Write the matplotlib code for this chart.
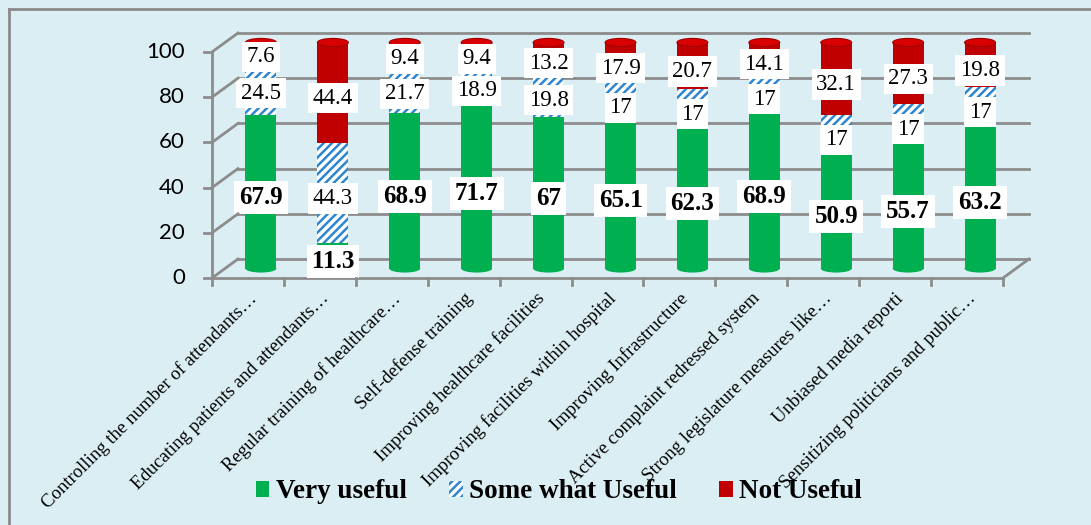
import matplotlib.pyplot as plt
import numpy as np
from matplotlib.patches import Patch, Ellipse
from matplotlib.lines import Line2D
from matplotlib.transforms import Affine2D

categories = [
    "Controlling the number of attendants\u2026",
    "Educating patients and attendants\u2026",
    "Regular training of healthcare\u2026",
    "Self-defense training",
    "Improving healthcare facilities",
    "Improving facilities within hospital",
    "Improving Infrastructure",
    "Active complaint redressed system",
    "Strong legislature measures like\u2026",
    "Unbiased media reporti",
    "Sensitizing politicians and public\u2026",
]
very_useful = [67.9, 11.3, 68.9, 71.7, 67, 65.1, 62.3, 68.9, 50.9, 55.7, 63.2]
somewhat_useful = [24.5, 44.3, 21.7, 18.9, 19.8, 17, 17, 17, 17, 17, 17]
not_useful = [7.6, 44.4, 9.4, 9.4, 13.2, 17.9, 20.7, 14.1, 32.1, 27.3, 19.8]
yticks = [0, 20, 40, 60, 80, 100]

bg = '#DBEEF4'
green = '#00B050'
blue = '#2E86D0'
red = '#C00000'
grid = '#8C8C8C'

plt.rcParams['hatch.linewidth'] = 1.8
W, H = 1091, 525
fig = plt.figure(figsize=(W / 100, H / 100), dpi=100, facecolor=bg)
# axes sit at mid depth of the fake 3D box
ax = fig.add_axes([225 / W, (H - 268.5) / H, 791 / W, 226 / H])
ax.set_xlim(-0.5, len(categories) - 0.5)
ax.set_ylim(0, 100)
ax.axis('off')

dx, dy = 13, 9.5
front = ax.transData + Affine2D().translate(-dx, -dy)
back = ax.transData + Affine2D().translate(dx, dy)
x0, x1 = -0.5, len(categories) - 0.5


def fig_line(p, q, **kw):
    fig.add_artist(Line2D([p[0] / W, q[0] / W], [p[1] / H, q[1] / H],
                          transform=fig.transFigure, **kw))


# back wall grid and left wall
for t in yticks:
    ax.plot([x0, x1], [t, t], color=grid, lw=2, transform=back, clip_on=False, zorder=1)
    fig_line(front.transform((x0, t)), back.transform((x0, t)), color=grid, lw=2, zorder=1)
fig_line(front.transform((x1, 0)), back.transform((x1, 0)), color=grid, lw=2, zorder=1)
# front axis lines and ticks
ax.plot([x0, x0], [0, 100], color=grid, lw=2, transform=front, clip_on=False, zorder=1)
ax.plot([x0, x1], [0, 0], color=grid, lw=2, transform=front, clip_on=False, zorder=1)
for t in yticks:
    p = front.transform((x0, t))
    fig_line((p[0] - 8, p[1]), p, color=grid, lw=2)
    fig.text((p[0] - 27) / W, p[1] / H, str(t), ha='right', va='center',
             fontsize=16, family='Lato', color='black')
for i in range(len(categories) + 1):
    p = front.transform((x0 + i, 0))
    fig_line(p, (p[0], p[1] - 7), color=grid, lw=2)
for i, c in enumerate(categories):
    p = front.transform((i, 0))
    fig.text((p[0] + 6) / W, (p[1] - 18) / H, c, rotation=45, rotation_mode='anchor',
             ha='right', va='center', fontsize=13.5, family='Liberation Serif')

x = np.arange(len(categories))
vu = np.array(very_useful)
su = np.array(somewhat_useful)
nu = np.array(not_useful)
bw = 0.43
ax.bar(x, vu, bw, color=green, lw=0, zorder=3)
ax.bar(x, su, bw, bottom=vu, facecolor='white', edgecolor=blue, hatch='////', lw=0, zorder=3)
ax.bar(x, nu, bw, bottom=vu + su, color=red, lw=0, zorder=3)
for i in x:
    ax.add_patch(Ellipse((i, 0), bw, 3.6, color=green, lw=0, zorder=2.9, clip_on=False))
    top = vu[i] + su[i] + nu[i]
    ax.add_patch(Ellipse((i, top), bw, 3.6, facecolor='#D80000', edgecolor='#A00000',
                         lw=0.8, zorder=3.1, clip_on=False))

box = dict(boxstyle='square,pad=0.2', facecolor='white', edgecolor='none')
for i in x:
    ax.text(i, vu[i] / 2 - 2.5, f"{vu[i]:g}", ha='center', va='center', fontsize=18,
            fontweight='bold', family='Liberation Serif', bbox=box, zorder=5)
    ax.text(i, vu[i] + su[i] / 2 - 2.5, f"{su[i]:g}", ha='center', va='center', fontsize=16.5,
            family='Liberation Serif', bbox=box, zorder=5)
    ax.text(i, vu[i] + su[i] + nu[i] / 2 - 2.5, f"{nu[i]:g}", ha='center', va='center',
            fontsize=16.5, family='Liberation Serif', bbox=box, zorder=5)

handles = [Patch(facecolor=green, lw=0),
           Patch(facecolor='white', edgecolor=blue, hatch='////', lw=0),
           Patch(facecolor=red, lw=0)]
fig.legend(handles, ['Very useful', 'Some what Useful', 'Not Useful'], loc='center',
           bbox_to_anchor=(559 / W, 1 - 492 / H), ncol=3, frameon=False,
           prop={'family': 'Liberation Serif', 'weight': 'bold', 'size': 19.5},
           handlelength=0.5, handleheight=0.5, handletextpad=0.25, columnspacing=1.55,
           borderpad=0, borderaxespad=0)

# outer chart border (left and top visible)
fig_line((9, 0), (9, H - 9), color='#8A8A8A', lw=2)
fig_line((9, H - 9), (W, H - 9), color='#8A8A8A', lw=2)

fig.savefig('out.png', dpi=100, facecolor=bg)
